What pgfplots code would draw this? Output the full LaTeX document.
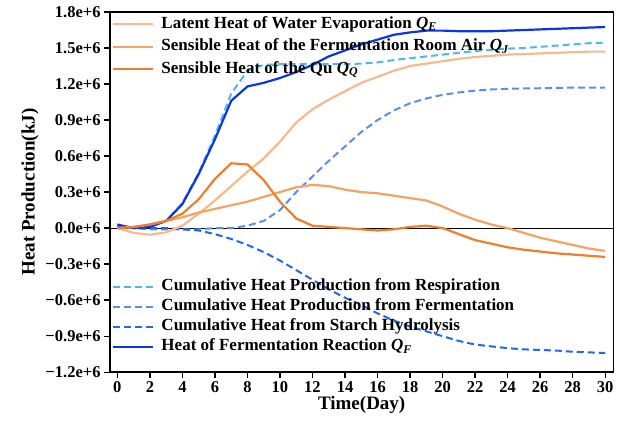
\documentclass[border=0pt]{standalone}
\usepackage{fontspec}
\setmainfont{Liberation Serif}
\usepackage{pgfplots}
\usepackage{pgfplotstable}
\pgfplotsset{compat=1.18}

\definecolor{cQE}{HTML}{F8BA8C}
\definecolor{cQJ}{HTML}{F5A262}
\definecolor{cQQ}{HTML}{EF7E2D}
\definecolor{cResp}{HTML}{4FB6F2}
\definecolor{cFerm}{HTML}{5A8DF2}
\definecolor{cStarch}{HTML}{1F68F0}
\definecolor{cHeat}{HTML}{0A36E6}

% values in units of 1e6 kJ
\pgfplotstableread{
day qe qj qq
0 0.00 0.00 0.00
1 -0.04 0.01 0.01
2 -0.055 0.03 0.03
3 -0.035 0.06 0.06
4 0.02 0.09 0.12
5 0.12 0.13 0.24
6 0.23 0.16 0.41
7 0.35 0.19 0.54
8 0.47 0.22 0.53
9 0.58 0.26 0.40
10 0.72 0.30 0.22
11 0.88 0.34 0.08
12 0.99 0.36 0.02
13 1.07 0.35 0.01
14 1.14 0.32 0.00
15 1.21 0.30 -0.01
16 1.26 0.29 -0.02
17 1.31 0.27 -0.01
18 1.35 0.25 0.01
19 1.37 0.23 0.02
20 1.39 0.18 0.00
21 1.41 0.12 -0.05
22 1.425 0.07 -0.10
23 1.435 0.03 -0.13
24 1.445 0.00 -0.16
25 1.45 -0.04 -0.18
26 1.455 -0.08 -0.195
27 1.46 -0.11 -0.21
28 1.465 -0.14 -0.22
29 1.47 -0.17 -0.23
30 1.47 -0.19 -0.24
}\orangedata

\pgfplotstableread{
day resp ferm starch heat
0 0.00 0.02 0.02 0.03
1 0.00 0.00 0.00 0.00
2 0.01 -0.01 0.00 0.01
3 0.06 -0.01 0.00 0.06
4 0.21 -0.01 -0.01 0.20
5 0.46 -0.01 -0.02 0.45
6 0.77 0.00 -0.05 0.74
7 1.12 0.00 -0.09 1.06
8 1.31 0.02 -0.14 1.18
9 1.36 0.06 -0.20 1.21
10 1.365 0.15 -0.27 1.25
11 1.365 0.30 -0.35 1.30
12 1.365 0.43 -0.43 1.36
13 1.365 0.56 -0.51 1.43
14 1.365 0.68 -0.58 1.48
15 1.37 0.80 -0.64 1.53
16 1.38 0.90 -0.71 1.57
17 1.40 0.98 -0.77 1.61
18 1.415 1.04 -0.82 1.63
19 1.43 1.08 -0.86 1.645
20 1.445 1.11 -0.90 1.645
21 1.46 1.13 -0.94 1.64
22 1.475 1.145 -0.97 1.64
23 1.485 1.155 -0.985 1.64
24 1.495 1.16 -1.00 1.645
25 1.50 1.163 -1.01 1.65
26 1.51 1.165 -1.015 1.655
27 1.52 1.168 -1.02 1.66
28 1.53 1.17 -1.03 1.665
29 1.54 1.17 -1.035 1.67
30 1.545 1.17 -1.04 1.675
}\bluedata

\pgfplotsset{
  base/.style={
    scale only axis, width=503pt, height=360pt,
    xmin=-0.45, xmax=30.5, ymin=-1.2, ymax=1.8,
    legend image code/.code={\draw[##1] (0pt,0pt) -- (40pt,0pt);},
    legend cell align=left,
  },
  leg/.style={draw=none, fill=none, inner sep=0pt,
    font=\fontsize{17}{19}\selectfont\bfseries,
    nodes={inner sep=1pt, text height=12pt, text depth=4pt},
    /tikz/every odd column/.append style={column sep=6pt}},
  dash/.style={dash pattern=on 7pt off 4pt},
}

\newcommand{\Q}[1]{\textit{Q}\textsubscript{\textit{#1}}}

\begin{document}
\begin{tikzpicture}
\begin{axis}[base, name=main,
  axis line style={line width=1.4pt},
  tick align=outside, xtick pos=left, ytick pos=left,
  major tick length=6pt,
  every tick/.style={black, line width=1.3pt},
  xtick={0,2,...,30},
  ytick={-1.2,-0.9,-0.6,-0.3,0,0.3,0.6,0.9,1.2,1.5,1.8},
  yticklabels={−1.2e+6,−0.9e+6,−0.6e+6,−0.3e+6,0.0e+6,0.3e+6,0.6e+6,0.9e+6,1.2e+6,1.5e+6,1.8e+6},
  tick label style={font=\fontsize{16.5}{18}\selectfont\bfseries},
  /pgf/number format/assume math mode=true,
  xlabel={Time(Day)}, ylabel={Heat Production(kJ)},
  label style={font=\fontsize{19}{21}\selectfont\bfseries},
  xlabel style={yshift=3pt},
  legend style={leg, row sep=2pt, at={(0,0)}, anchor=south west, xshift=2pt, yshift=16pt},
]
\addplot[black, line width=1.2pt, forget plot] coordinates {(-0.45,0) (30.5,0)};
\addplot[cResp, line width=2pt, dash] table[x=day, y=resp] {\bluedata};
\addlegendentry{Cumulative Heat Production from Respiration}
\addplot[cFerm, line width=2pt, dash] table[x=day, y=ferm] {\bluedata};
\addlegendentry{Cumulative Heat Production from Fermentation}
\addplot[cStarch, line width=2pt, dash] table[x=day, y=starch] {\bluedata};
\addlegendentry{Cumulative Heat from Starch Hydrolysis}
\addplot[cHeat, line width=2.2pt] table[x=day, y=heat] {\bluedata};
\addlegendentry{Heat of Fermentation Reaction \Q{F}}
\end{axis}
\begin{axis}[base, hide axis,
  legend style={leg, row sep=4.5pt, at={(0,1)}, anchor=north west, xshift=2pt, yshift=-3pt},
]
\addplot[cQE, line width=2.2pt] table[x=day, y=qe] {\orangedata};
\addlegendentry{Latent Heat of Water Evaporation \Q{E}}
\addplot[cQJ, line width=2.2pt] table[x=day, y=qj] {\orangedata};
\addlegendentry{Sensible Heat of the Fermentation Room Air \Q{J}}
\addplot[cQQ, line width=2.2pt] table[x=day, y=qq] {\orangedata};
\addlegendentry{Sensible Heat of the Qu \Q{Q}}
\end{axis}
\path (main.south west) ++(-110pt,-54pt) coordinate (bl);
\path (main.north east) ++(10.7pt,12pt) coordinate (tr);
\path (bl) rectangle (tr);
\end{tikzpicture}
\end{document}
